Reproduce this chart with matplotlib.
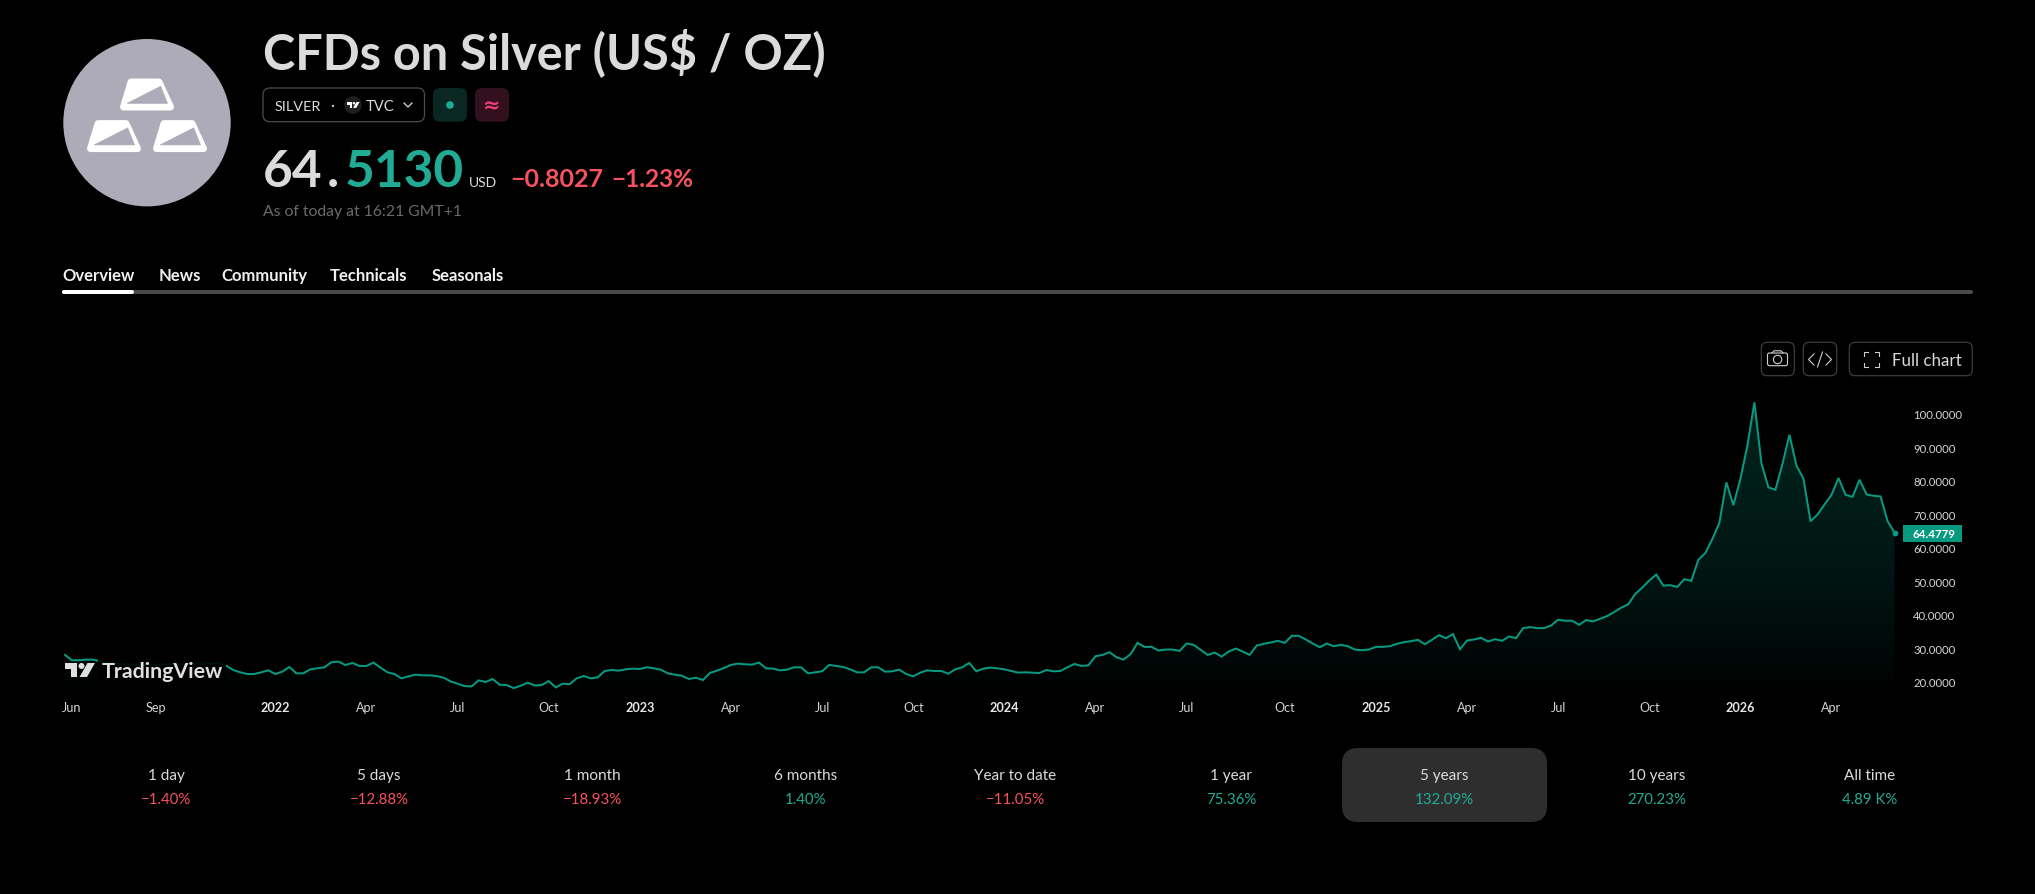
import numpy as np
import matplotlib
matplotlib.use('Agg')
import matplotlib.pyplot as plt
from matplotlib.patches import FancyBboxPatch, Circle, Polygon
from matplotlib.colors import LinearSegmentedColormap

plt.rcParams['font.family'] = ['Lato', 'DejaVu Sans']

# weekly closes, 5 years
close_2021 = [28.0, 26.4, 26.4, 26.6, 26.6, 26.1, 25.7, 25.4, 25.3, 25.2, 25.1, 25.0, 25.0, 25.1,
              25.2, 25.3, 25.3, 25.2, 25.3, 25.4, 25.5, 25.6, 25.5, 24.8, 23.5, 22.8, 22.3, 22.3,
              22.8, 23.4, 22.3]
close_2022 = [23.0, 24.4, 22.5, 22.5, 23.7, 24.0, 24.3, 25.8, 26.0, 25.0, 25.6, 24.7, 24.7, 25.7,
              24.2, 22.8, 22.3, 21.0, 21.6, 22.1, 21.9, 21.9, 21.7, 21.2, 20.1, 19.4, 18.7, 18.6,
              20.4, 19.9, 20.8, 19.1, 19.0, 18.1, 18.8, 19.7, 18.9, 19.0, 20.2, 18.3, 19.4, 19.3,
              21.0, 21.7, 21.0, 21.3, 23.2, 23.5, 23.3, 23.7, 23.9, 23.8]
close_2023 = [24.3, 24.0, 23.6, 22.5, 22.1, 21.8, 20.8, 21.2, 20.5, 22.6, 23.3, 24.1, 25.0, 25.4,
              25.2, 25.1, 25.7, 24.0, 23.9, 23.4, 23.6, 24.3, 24.3, 22.5, 22.8, 23.1, 25.0, 24.7,
              24.4, 23.7, 22.8, 22.8, 24.3, 24.3, 23.0, 23.1, 23.6, 22.3, 21.6, 22.7, 23.4, 23.2,
              23.2, 22.4, 23.7, 24.3, 25.6, 23.1, 23.9, 24.2, 24.0, 23.7]
close_2024 = [23.2, 22.7, 22.8, 22.7, 22.6, 23.5, 23.1, 23.2, 24.3, 25.3, 24.7, 24.9, 27.6, 28.0,
              28.8, 27.3, 26.6, 28.2, 31.6, 30.4, 30.4, 29.3, 29.6, 29.6, 29.2, 31.4, 31.0, 29.5,
              28.0, 28.7, 27.5, 29.0, 29.9, 29.0, 28.0, 30.8, 31.3, 31.7, 32.2, 31.6, 33.7, 33.7,
              32.6, 31.4, 30.3, 31.4, 30.6, 31.0, 30.6, 29.6, 29.4, 29.6]
close_2025 = [30.4, 30.4, 30.6, 31.3, 31.8, 32.1, 32.5, 31.2, 32.5, 33.9, 33.0, 34.2, 29.7, 32.3,
              32.6, 33.1, 32.0, 32.7, 32.2, 33.5, 33.0, 36.0, 36.3, 36.0, 36.0, 36.8, 38.5, 38.2,
              38.2, 37.0, 38.4, 38.0, 38.8, 39.6, 40.8, 42.1, 43.1, 46.2, 48.1, 50.2, 52.0, 48.7,
              48.8, 48.3, 50.6, 50.1, 56.4, 58.4, 62.6, 67.4, 79.5, 72.7]
close_2026 = [80.5, 90.5, 103.4, 85.2, 78.0, 77.3, 85.0, 93.7, 84.5, 80.6, 67.9, 69.9, 72.9, 75.8,
              80.8, 75.8, 75.2, 80.3, 75.9, 75.5, 75.3, 67.9, 64.4779]

date_ticks = [1, 13, 30, 43, 56, 69, 82, 95, 108, 121, 134, 147, 160, 174, 187, 200, 213, 226, 239, 252]
date_labels = ['Jun', 'Sep', '2022', 'Apr', 'Jul', 'Oct', '2023', 'Apr', 'Jul', 'Oct', '2024',
               'Apr', 'Jul', 'Oct', '2025', 'Apr', 'Jul', 'Oct', '2026', 'Apr']
price_ticks = [20, 30, 40, 50, 60, 70, 80, 90, 100]

periods = ['1 day', '5 days', '1 month', '6 months', 'Year to date', '1 year', '5 years', '10 years', 'All time']
changes = ['−1.40%', '−12.88%', '−18.93%', '1.40%', '−11.05%', '75.36%', '132.09%', '270.23%', '4.89 K%']
change_up = [False, False, False, True, False, True, True, True, True]
period_centers = [166, 379, 592, 806, 1015, 1231, 1444, 1657, 1870]

tabs = ['Overview', 'News', 'Community', 'Technicals', 'Seasonals']
tab_left = [62, 159, 221, 330, 432]

close = np.array(close_2021 + close_2022 + close_2023 + close_2024 + close_2025 + close_2026)
weeks = np.arange(len(close))

BG = '#000000'
TEAL = '#089981'
GREEN = '#22ab94'
RED = '#f7525f'
TXT = '#dbdbdb'
W, H = 2035, 895

fig = plt.figure(figsize=(W / 100, H / 100), dpi=100, facecolor=BG)

# chart area, pixel box (60,400)-(1900,700)
X0_PX, BAR_PX = 65, 7.01
Y100_PX, PX_PER_USD = 414.7, 3.35
left, right, top, bottom = 60, 1900, 400, 700
ax = fig.add_axes([left / W, 1 - bottom / H, (right - left) / W, (bottom - top) / H], facecolor=BG)
ax.set_xlim((left - X0_PX) / BAR_PX, (right - X0_PX) / BAR_PX)
ax.set_ylim(100 - (bottom - Y100_PX) / PX_PER_USD, 100 + (Y100_PX - top) / PX_PER_USD)
for s in ax.spines.values():
    s.set_visible(False)

# area under the line: teal fading to nothing towards the bottom
stops = [(0.0, 0.0), (0.06, 0.025), (0.23, 0.085), (0.45, 0.15), (0.75, 0.20), (1.0, 0.21)]
cmap = LinearSegmentedColormap.from_list('fade', [(p, (8 / 255, 153 / 255, 129 / 255, a)) for p, a in stops])
grad = np.linspace(1, 0, 256).reshape(-1, 1)
ylo, yhi = ax.get_ylim()
img = ax.imshow(grad, cmap=cmap, aspect='auto', extent=[weeks[0], weeks[-1], ylo, yhi], zorder=1)
area = Polygon(np.column_stack([np.r_[weeks[0], weeks, weeks[-1]], np.r_[ylo, close, ylo]]),
               transform=ax.transData, facecolor='none', edgecolor='none')
ax.add_patch(area)
img.set_clip_path(area)
ax.set_xlim((left - X0_PX) / BAR_PX, (right - X0_PX) / BAR_PX)

ax.plot(weeks, close, color=TEAL, lw=1.45, solid_joinstyle='miter', zorder=3)
ax.plot(weeks[-1], close[-1], 'o', color=TEAL, ms=4.2, mew=0, zorder=4)

ax.yaxis.tick_right()
ax.set_yticks(price_ticks)
ax.set_yticklabels(['%.4f' % p for p in price_ticks])
ax.tick_params(axis='y', length=0, pad=9.4, labelsize=8.2, labelcolor='#d4d4d4')
ax.set_xticks(date_ticks)
ax.set_xticklabels(date_labels)
ax.tick_params(axis='x', length=0, pad=1.2, labelsize=9.1, labelcolor='#d4d4d4')
for t in ax.get_xticklabels():
    if t.get_text().isdigit():
        t.set_fontweight('bold')
        t.set_color('#e6e6e6')

# everything else is placed in pixels on a full-figure layer
ov = fig.add_axes([0, 0, 1, 1])
ov.set_xlim(0, W)
ov.set_ylim(H, 0)
ov.axis('off')


def rbox(x0, y0, x1, y1, r, fc='none', ec='none', lw=0.0):
    ov.add_patch(FancyBboxPatch((x0 + r, y0 + r), x1 - x0 - 2 * r, y1 - y0 - 2 * r,
                                boxstyle='round,pad=%f,rounding_size=%f' % (r, r),
                                fc=fc, ec=ec, lw=lw))


def tv_logo(x, y, s, color):
    # x, y is the top left of the mark, s the scale (1 = 14 px tall)
    ov.add_patch(Polygon([(x, y), (x + 12 * s, y), (x + 12 * s, y + 14 * s), (x + 6 * s, y + 14 * s),
                          (x + 6 * s, y + 6 * s), (x, y + 6 * s)], fc=color, ec='none', zorder=6))
    ov.add_patch(Circle((x + 16.5 * s, y + 3 * s), 3 * s, fc=color, ec='none', zorder=6))
    ov.add_patch(Polygon([(x + 22.5 * s, y), (x + 30 * s, y), (x + 22 * s, y + 14 * s), (x + 14.5 * s, y + 14 * s)],
                         fc=color, ec='none', zorder=6))


# symbol logo
ov.add_patch(Circle((147, 123.7), 83.7, fc='#adabb8', ec='none'))
for dx, dy in [(0, 0), (-33, 41.6), (33, 41.6)]:
    ov.add_patch(Polygon([(131 + dx, 83 + dy), (159 + dx, 83 + dy), (170.5 + dx, 108 + dy), (123.5 + dx, 108 + dy)],
                         fc='white', ec='white', lw=5, joinstyle='round'))
    ov.add_patch(Polygon([(127.3 + dx, 104.3 + dy), (160.7 + dx, 87.3 + dy), (167.5 + dx, 104.3 + dy)],
                         fc='#adabb8', ec='#adabb8', lw=0.5, joinstyle='round'))

# header
ov.text(263, 69, 'CFDs on Silver (US$ / OZ)', color=TXT, fontsize=35, fontweight='bold', va='baseline')
rbox(263, 89, 424.5, 122.7, 7, ec='#4c4c4c', lw=0.9)
ov.text(275, 111, 'SILVER', color=TXT, fontsize=10.4, va='baseline')
ov.text(332, 110, '·', color=TXT, fontsize=11, ha='center', va='baseline')
ov.add_patch(Circle((353, 106), 8.8, fc='#1f1f1f', ec='none'))
tv_logo(347, 103, 0.42, 'white')
ov.text(366, 111, 'TVC', color=TXT, fontsize=10.6, va='baseline')
ov.plot([404, 408, 412], [104, 108, 104], color=TXT, lw=0.9)
rbox(433, 89, 467, 122.7, 7, fc='#0b2723')
ov.add_patch(Circle((450, 106), 3.8, fc=GREEN, ec='none'))
rbox(475, 89, 509, 122.7, 7, fc='#33101e')
ov.text(492, 112, '≈', color='#f23e7a', fontsize=15, fontweight='bold', family='DejaVu Sans', ha='center', va='baseline')

ov.text(263, 187, '64', color=TXT, fontsize=37, fontweight='bold', va='baseline')
ov.text(327, 187, '.', color=TXT, fontsize=37, fontweight='bold', va='baseline')
ov.text(345, 187, '5130', color=GREEN, fontsize=37, fontweight='bold', va='baseline')
ov.text(469, 187, 'USD', color=TXT, fontsize=10, va='baseline')
ov.text(510, 187, '−0.8027', color=RED, fontsize=18, fontweight='bold', va='baseline')
ov.text(611, 187, '−1.23%', color=RED, fontsize=17.6, fontweight='bold', va='baseline')
ov.text(263, 216, 'As of today at 16:21 GMT+1', color='#6a6a6a', fontsize=11.3, va='baseline')

# tabs
for name, x in zip(tabs, tab_left):
    ov.text(x, 281, name, color='#f0f0f0', fontsize=12, fontweight='bold', va='baseline')
rbox(62, 291, 1973, 295, 2, fc='#4a4a4a')
rbox(62, 291, 134, 295, 2, fc='white')

# chart buttons
rbox(1761.3, 343.3, 1794.3, 376.7, 6, ec='#3d3d3d', lw=0.9)
rbox(1803.3, 343.3, 1836.7, 376.7, 6, ec='#3d3d3d', lw=0.9)
rbox(1849.3, 343.3, 1972.3, 376.7, 6, ec='#3d3d3d', lw=0.9)
rbox(1767.5, 354, 1787.5, 366.7, 2, ec='#cfcfcf', lw=0.8)
ov.plot([1772, 1774, 1781, 1783], [354, 351.8, 351.8, 354], color='#cfcfcf', lw=0.8)
ov.add_patch(Circle((1777.6, 360.5), 4.2, fc='none', ec='#cfcfcf', lw=0.8))
ov.plot([1814, 1808.5, 1814], [355, 360.5, 366], color='#cfcfcf', lw=0.8)
ov.plot([1826, 1831.5, 1826], [355, 360.5, 366], color='#cfcfcf', lw=0.8)
ov.plot([1822.5, 1817.5], [353, 368], color='#cfcfcf', lw=0.8)
for cx, cy, sx, sy in [(1863.5, 352.7, 1, 1), (1878.5, 352.7, -1, 1), (1863.5, 367.7, 1, -1), (1878.5, 367.7, -1, -1)]:
    ov.plot([cx, cx, cx + 4 * sx], [cy + 4 * sy, cy, cy], color='#cfcfcf', lw=0.8)
ov.text(1891.7, 365.5, 'Full chart', color=TXT, fontsize=12.2, va='baseline')

# last price tag
ov.add_patch(Polygon([(1903, 526), (1961.7, 526), (1961.7, 543), (1903, 543)], fc=TEAL, ec='none'))
ov.text(1912.7, 538.5, '%.4f' % close[-1], color='white', fontsize=8.3, fontweight='bold', va='baseline')

# watermark, knocked out of the line behind it
tv_logo(65, 664, 1.0, '#e0e0e0')
ov.add_patch(Polygon([(98, 660), (226, 660), (226, 684), (98, 684)], fc=BG, ec='none', alpha=0.9, zorder=5))
ov.text(101.5, 678, 'TradingView', color='#e0e0e0', fontsize=15.4, fontweight='bold', va='baseline', zorder=6)

# performance row
rbox(1342, 749, 1547, 823, 16, fc='#2e2e2e')
for cx, name, val, up in zip(period_centers, periods, changes, change_up):
    ov.text(cx, 780, name, color=TXT, fontsize=11, ha='center', va='baseline')
    ov.text(cx, 804, val, color=GREEN if up else RED, fontsize=10.8, ha='center', va='baseline')

fig.savefig('out.png', dpi=100, facecolor=BG)
